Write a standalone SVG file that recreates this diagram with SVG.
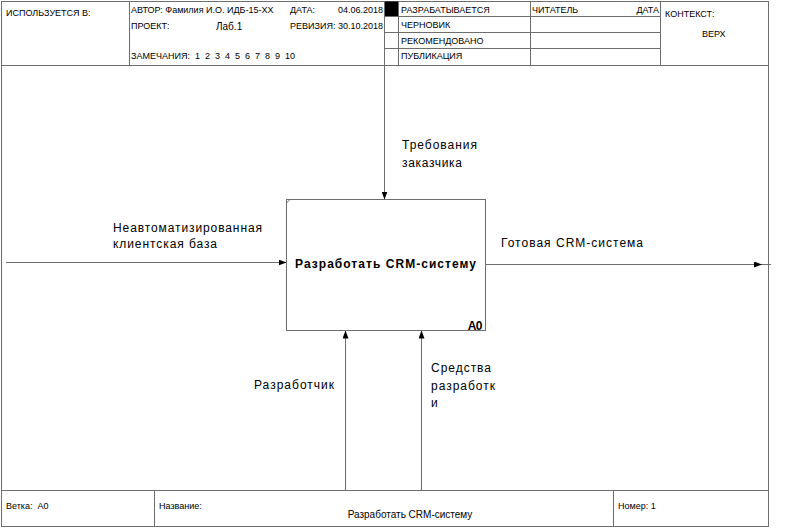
<svg xmlns="http://www.w3.org/2000/svg" width="799" height="532" viewBox="0 0 799 532">
<defs>
<style>
.fr{stroke:#6e6e6e;stroke-width:1;fill:none}
.ln{stroke:#6e6e6e;stroke-width:1;fill:none}
.h{font-family:"Liberation Sans",Arial,sans-serif;font-size:9px;fill:#000}
.lb{font-family:"Liberation Sans",Arial,sans-serif;font-size:12px;fill:#000}
.tb{font-family:"Liberation Sans",Arial,sans-serif;font-size:12px;font-weight:bold;fill:#000}
</style>
<marker id="ah" viewBox="0 0 8 6" refX="8" refY="3" markerWidth="8" markerHeight="6" markerUnits="userSpaceOnUse" orient="auto">
<path d="M0,0 L8,3 L0,6 Z" fill="#000"/>
</marker>
</defs>
<rect width="799" height="532" fill="#fff"/>
<g id="frame">
<rect class="fr" x="1.5" y="1.5" width="767" height="525"/>
<line class="fr" x1="1.5" y1="65.5" x2="768.5" y2="65.5"/>
<line class="fr" x1="129.5" y1="1.5" x2="129.5" y2="65.5"/>
<line class="fr" x1="384.5" y1="1.5" x2="384.5" y2="65.5"/>
<rect x="385" y="1.5" width="13" height="14.5" fill="#000"/>
<line class="fr" x1="398.5" y1="1.5" x2="398.5" y2="65.5"/>
<line class="fr" x1="530.5" y1="1.5" x2="530.5" y2="65.5"/>
<line class="fr" x1="660.5" y1="1.5" x2="660.5" y2="65.5"/>
<line class="fr" x1="384.5" y1="16.5" x2="660.5" y2="16.5"/>
<line class="fr" x1="384.5" y1="32.5" x2="660.5" y2="32.5"/>
<line class="fr" x1="384.5" y1="48.5" x2="660.5" y2="48.5"/>
<line class="fr" x1="1.5" y1="490.5" x2="768.5" y2="490.5"/>
<line class="fr" x1="154.5" y1="490.5" x2="154.5" y2="526.5"/>
<line class="fr" x1="613.5" y1="490.5" x2="613.5" y2="526.5"/>
<text class="h" x="6" y="16">ИСПОЛЬЗУЕТСЯ В:</text>
<text class="h" x="131" y="13">АВТОР: Фамилия И.О. ИДБ-15-XX</text>
<text class="h" x="290" y="13">ДАТА:</text>
<text class="h" x="338" y="13">04.06.2018</text>
<text class="h" x="131" y="29">ПРОЕКТ:</text>
<text class="h" x="216" y="30" style="font-size:10px">Лаб.1</text>
<text class="h" x="290" y="29">РЕВИЗИЯ: 30.10.2018</text>
<text class="h" x="131" y="59" xml:space="preserve">ЗАМЕЧАНИЯ:  1  2  3  4  5  6  7  8  9  10</text>
<text class="h" x="401" y="13">РАЗРАБАТЫВАЕТСЯ</text>
<text class="h" x="401" y="28">ЧЕРНОВИК</text>
<text class="h" x="401" y="44">РЕКОМЕНДОВАНО</text>
<text class="h" x="401" y="59">ПУБЛИКАЦИЯ</text>
<text class="h" x="532" y="13">ЧИТАТЕЛЬ</text>
<text class="h" x="659" y="13" text-anchor="end">ДАТА</text>
<text class="h" x="665" y="17">КОНТЕКСТ:</text>
<text class="h" x="702" y="37">ВЕРХ</text>
<text class="h" x="6" y="509" xml:space="preserve">Ветка:  A0</text>
<text class="h" x="159" y="509">Название:</text>
<text class="h" x="410" y="518" text-anchor="middle" style="font-size:10px">Разработать CRM-систему</text>
<text class="h" x="618" y="509">Номер: 1</text>
</g>
<g id="connectors">
<line class="ln" x1="384.5" y1="65.5" x2="384.5" y2="199.5" marker-end="url(#ah)"/>
<line class="ln" x1="6" y1="262.5" x2="286.5" y2="262.5" marker-end="url(#ah)"/>
<line class="ln" x1="485.5" y1="264.5" x2="771" y2="264.5"/>
<line class="ln" x1="740" y1="264.5" x2="762" y2="264.5" marker-end="url(#ah)"/>
<line class="ln" x1="345.5" y1="490.5" x2="345.5" y2="330.5" marker-end="url(#ah)"/>
<line class="ln" x1="421.5" y1="490.5" x2="421.5" y2="330.5" marker-end="url(#ah)"/>
<text class="lb" x="402" y="149" textLength="75" lengthAdjust="spacing">Требования</text>
<text class="lb" x="402" y="167" textLength="60" lengthAdjust="spacing">заказчика</text>
<text class="lb" x="113" y="232" textLength="149" lengthAdjust="spacing">Неавтоматизированная</text>
<text class="lb" x="113" y="248" textLength="104" lengthAdjust="spacing">клиентская база</text>
<text class="lb" x="501" y="247" textLength="142" lengthAdjust="spacing">Готовая CRM-система</text>
<text class="lb" x="254" y="389" textLength="80" lengthAdjust="spacing">Разработчик</text>
<text class="lb" x="431" y="372" textLength="60" lengthAdjust="spacing">Средства</text>
<text class="lb" x="431" y="390" textLength="64" lengthAdjust="spacing">разработк</text>
<text class="lb" x="431" y="407">и</text>
</g>
<g id="A0">
<rect class="fr" x="286.5" y="199.5" width="199" height="131"/>
<line class="fr" x1="286.5" y1="203" x2="290" y2="199.5"/>
<text class="tb" x="295" y="268" textLength="181" lengthAdjust="spacing">Разработать CRM-систему</text>
<text class="tb" x="482" y="330" text-anchor="end" style="letter-spacing:-0.5px">A0</text>
</g>
</svg>
